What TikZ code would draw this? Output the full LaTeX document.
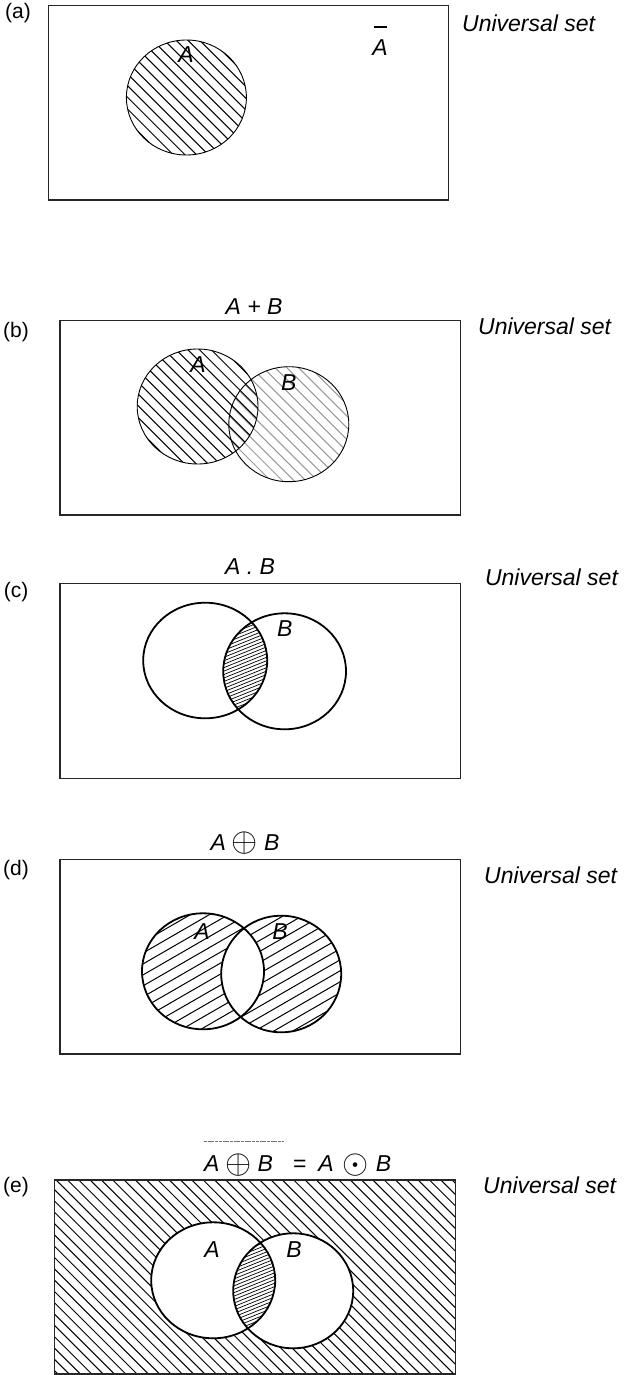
\documentclass[tikz,border=0pt]{standalone}
\usepackage{fontspec}
\usepackage{graphicx}
\setmainfont{Liberation Sans}
\newcommand\labfont{\fontsize{23}{27}\selectfont\itshape}
\newcommand\tagfont{\fontsize{21}{25}\selectfont}
\newcommand\opsym[1]{\raisebox{-1.5pt}{\scalebox{1.35}{$#1$}}}
\newcommand\hatchlines[6]{%
  \foreach \j in {0,...,#5}{%
    \pgfmathsetmacro\kk{(\j-#5/2)*#4}%
    \pgfmathsetmacro\LL{#5*#4/2}%
    \draw[#6] ({#1-(\kk)*sin(#3)-(\LL)*cos(#3)},{#2+(\kk)*cos(#3)-(\LL)*sin(#3)}) -- ({#1-(\kk)*sin(#3)+(\LL)*cos(#3)},{#2+(\kk)*cos(#3)+(\LL)*sin(#3)});
  }}
\tikzset{
  frame/.style={draw=black!85, line width=1.1pt},
  thincirc/.style={draw, line width=0.9pt},
  thickcirc/.style={draw, line width=1.8pt},
  hatch/.style={line width=1pt},
  ghatch/.style={line width=1pt, draw=black!40},
  fhatch/.style={line width=0.7pt},
  lab/.style={font=\labfont, inner sep=0pt},
  tag/.style={font=\tagfont, inner sep=0pt},
  uset/.style={font=\labfont, inner sep=0pt, anchor=west},
}
\begin{document}
\begin{tikzpicture}[x=1pt,y=-1pt]
\useasboundingbox (0,0) rectangle (628,1375);

% ---------------- (a)
\node[tag] (ta) at (18,13) {(a)};
\begin{scope}
  \clip (186.4,97.5) ellipse [x radius=60pt, y radius=57.5pt];
  \hatchlines{186.4}{97.5}{45}{8.3}{16}{hatch}
\end{scope}
\draw[thincirc] (186.4,97.5) ellipse [x radius=60pt, y radius=57.5pt];
\draw[frame] (48.8,5.3) rectangle (448.8,200);
\node[lab] (la) at (186,55) {A};
\node[lab] (abar) at (380,48) {A};
\draw[line width=1.6pt] ([xshift=-6.5pt,yshift=21pt]abar.center) -- ([xshift=6.5pt,yshift=21pt]abar.center);
\node[uset] (ua) at (462,23) {Universal set};

% ---------------- (b)
\node[tag] (tb) at (16,332) {(b)};
\node[lab] (eb) at (254,306.7) {A + B};
\begin{scope}
  \clip (288.8,424.2) ellipse [x radius=60pt, y radius=57.5pt];
  \hatchlines{288.8}{428.4}{45}{8.3}{16}{ghatch}
\end{scope}
\begin{scope}
  \clip (197.6,406.5) ellipse [x radius=60.4pt, y radius=57.5pt];
  \hatchlines{197.6}{406.5}{45}{8.3}{16}{hatch}
\end{scope}
\draw[thincirc] (197.6,406.5) ellipse [x radius=60.4pt, y radius=57.5pt];
\draw[thincirc] (288.8,424.2) ellipse [x radius=60pt, y radius=57.5pt];
\draw[frame] (60,320.7) rectangle (460.8,515);
\node[lab] (lbA) at (198,365) {A};
\node[lab] (lbB) at (288.8,383) {B};
\node[uset] (ub) at (478,326) {Universal set};

% ---------------- (c)
\node[tag] (tc) at (16,591.7) {(c)};
\node[lab] (ec) at (250,566.7) {A . B};
\begin{scope}
  \clip (205.2,660.5) ellipse [x radius=62pt, y radius=57.8pt];
  \clip (284.6,671.3) ellipse [x radius=61.4pt, y radius=58pt];
  \hatchlines{245}{666}{-22}{3.2}{44}{fhatch}
\end{scope}
\draw[thickcirc] (205.2,660.5) ellipse [x radius=62pt, y radius=57.8pt];
\draw[thickcirc] (284.6,671.3) ellipse [x radius=61.4pt, y radius=58pt];
\draw[frame] (60,583.3) rectangle (460.8,778.3);
\node[lab] (lcB) at (284.8,628.3) {B};
\node[uset] (uc) at (484.8,577.3) {Universal set};

% ---------------- (d)
\node[tag] (td) at (16,870) {(d)};
\node[lab] (ed) at (245,843.3) {A\hspace{6pt}\opsym{\oplus}\hspace{6pt}B};
\begin{scope}[even odd rule]
  \clip (203,971.3) ellipse [x radius=61pt, y radius=58pt]
        (281.2,974) ellipse [x radius=60pt, y radius=58.3pt];
  \hatchlines{242}{972.6}{-30}{9.5}{24}{hatch}
\end{scope}
\draw[thickcirc] (203,971.3) ellipse [x radius=61pt, y radius=58pt];
\draw[thickcirc] (281.2,974) ellipse [x radius=60pt, y radius=58.3pt];
\draw[frame] (60,859.3) rectangle (460.8,1054);
\node[lab] (ldA) at (202,931.7) {A};
\node[lab] (ldB) at (280,931.7) {B};
\node[uset] (ud) at (484,875) {Universal set};

% ---------------- (e)
\node[tag] (te) at (16,1187) {(e)};
\node[lab, anchor=west] (ee) at (204,1165) {A\hspace{6pt}\opsym{\oplus}\hspace{6pt}B\hspace{20pt}{\upshape =}\hspace{12pt}A\hspace{9pt}\opsym{\odot}\hspace{7pt}B};
\draw[black!55, line width=0.7pt, dash pattern=on 3pt off 0.7pt] (204,1141.7) -- (284,1141.7);
\begin{scope}
  \clip (54.8,1180) rectangle (455.2,1374);
  \hatchlines{255}{1277}{45}{8}{56}{hatch}
\end{scope}
\fill[white] (213.2,1280.3) ellipse [x radius=62pt, y radius=58pt];
\fill[white] (293.2,1290.8) ellipse [x radius=60pt, y radius=57.5pt];
\begin{scope}
  \clip (213.2,1280.3) ellipse [x radius=62pt, y radius=58pt];
  \clip (293.2,1290.8) ellipse [x radius=60pt, y radius=57.5pt];
  \hatchlines{253}{1285}{-22}{3.2}{44}{fhatch}
\end{scope}
\draw[thickcirc] (213.2,1280.3) ellipse [x radius=62pt, y radius=58pt];
\draw[thickcirc] (293.2,1290.8) ellipse [x radius=60pt, y radius=57.5pt];
\draw[frame] (54.8,1180) rectangle (455.2,1374);
\node[lab] (leA) at (212,1250) {A};
\node[lab] (leB) at (294,1250) {B};
\node[uset] (ue) at (483,1185) {Universal set};
\end{tikzpicture}
\end{document}
